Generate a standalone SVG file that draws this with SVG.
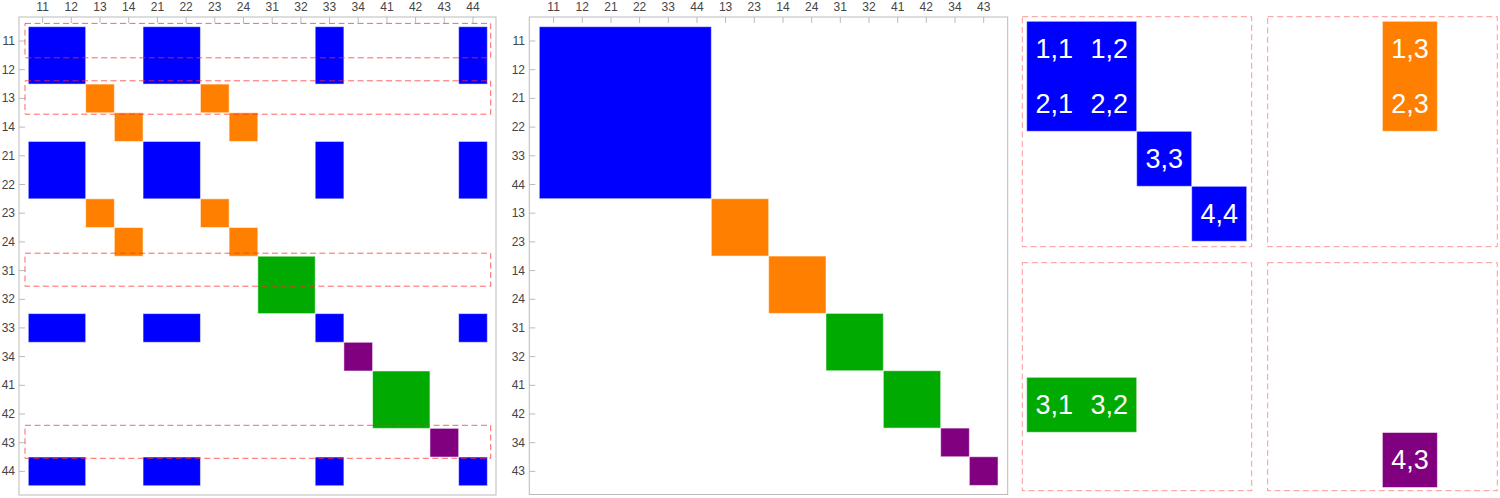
<svg xmlns="http://www.w3.org/2000/svg" width="1500" height="498" viewBox="0 0 1500 498">
<style>
.lbl{font-family:"Liberation Sans",Arial,sans-serif;font-size:12px;fill:#444}
.top{text-anchor:middle}
.side{text-anchor:end;dominant-baseline:central}
.frame{fill:none;stroke:#bbb;stroke-width:1}
.tick{stroke:#bbb;stroke-width:1;fill:none}
.b{fill:#0000ff}.o{fill:#ff8000}.g{fill:#00aa00}.p{fill:#800080}
.cell rect{stroke:#fff;stroke-opacity:0.5;stroke-width:1;vector-effect:non-scaling-stroke}
.dash{fill:none;stroke:#ff3030;stroke-opacity:0.75;stroke-width:1;stroke-dasharray:6 3.5}
.dash2{fill:none;stroke:#ff3030;stroke-opacity:0.5;stroke-width:1;stroke-dasharray:6 3.5}
.cl{font-family:"Liberation Sans",Arial,sans-serif;font-size:27px;fill:#fff;text-anchor:middle;dominant-baseline:central}
.blk{stroke:#fff;stroke-opacity:0.5;stroke-width:1}
</style>
<rect width="1500" height="498" fill="#fff"/>

<!-- LEFT PANEL -->
<g id="left-panel">
<rect class="frame" x="19" y="17" width="477" height="478"/>
<path class="tick" d="M42.6 17v6M71.3 17v6M100 17v6M128.7 17v6M157.4 17v6M186.1 17v6M214.8 17v6M243.5 17v6M272.2 17v6M300.9 17v6M329.5 17v6M358.2 17v6M386.9 17v6M415.6 17v6M444.3 17v6M473 17v6M19 41h6M19 69.7h6M19 98.4h6M19 127.1h6M19 155.8h6M19 184.5h6M19 213.2h6M19 241.9h6M19 270.6h6M19 299.3h6M19 327.9h6M19 356.6h6M19 385.3h6M19 414h6M19 442.7h6M19 471.4h6"/>
<g class="lbl top">
<text x="42.6" y="11">11</text><text x="71.3" y="11">12</text><text x="100" y="11">13</text><text x="128.7" y="11">14</text>
<text x="157.4" y="11">21</text><text x="186.1" y="11">22</text><text x="214.8" y="11">23</text><text x="243.5" y="11">24</text>
<text x="272.2" y="11">31</text><text x="300.9" y="11">32</text><text x="329.5" y="11">33</text><text x="358.2" y="11">34</text>
<text x="386.9" y="11">41</text><text x="415.6" y="11">42</text><text x="444.3" y="11">43</text><text x="473" y="11">44</text>
</g>
<g class="lbl side">
<text x="15" y="41">11</text><text x="15" y="69.7">12</text><text x="15" y="98.4">13</text><text x="15" y="127.1">14</text>
<text x="15" y="155.8">21</text><text x="15" y="184.5">22</text><text x="15" y="213.2">23</text><text x="15" y="241.9">24</text>
<text x="15" y="270.6">31</text><text x="15" y="299.3">32</text><text x="15" y="327.9">33</text><text x="15" y="356.6">34</text>
<text x="15" y="385.3">41</text><text x="15" y="414">42</text><text x="15" y="442.7">43</text><text x="15" y="471.4">44</text>
</g>
<g class="cell" transform="translate(28.3 26.7) scale(28.69)">
<rect class="b" x="0" y="0" width="2" height="2"/><rect class="b" x="4" y="0" width="2" height="2"/><rect class="b" x="10" y="0" width="1" height="2"/><rect class="b" x="15" y="0" width="1" height="2"/>
<rect class="b" x="0" y="4" width="2" height="2"/><rect class="b" x="4" y="4" width="2" height="2"/><rect class="b" x="10" y="4" width="1" height="2"/><rect class="b" x="15" y="4" width="1" height="2"/>
<rect class="b" x="0" y="10" width="2" height="1"/><rect class="b" x="4" y="10" width="2" height="1"/><rect class="b" x="10" y="10" width="1" height="1"/><rect class="b" x="15" y="10" width="1" height="1"/>
<rect class="b" x="0" y="15" width="2" height="1"/><rect class="b" x="4" y="15" width="2" height="1"/><rect class="b" x="10" y="15" width="1" height="1"/><rect class="b" x="15" y="15" width="1" height="1"/>
<rect class="o" x="2" y="2" width="1" height="1"/><rect class="o" x="6" y="2" width="1" height="1"/><rect class="o" x="2" y="6" width="1" height="1"/><rect class="o" x="6" y="6" width="1" height="1"/>
<rect class="o" x="3" y="3" width="1" height="1"/><rect class="o" x="7" y="3" width="1" height="1"/><rect class="o" x="3" y="7" width="1" height="1"/><rect class="o" x="7" y="7" width="1" height="1"/>
<rect class="g" x="8" y="8" width="2" height="2"/><rect class="g" x="12" y="12" width="2" height="2"/>
<rect class="p" x="11" y="11" width="1" height="1"/><rect class="p" x="14" y="14" width="1" height="1"/>
</g>
<rect class="dash" x="25" y="23.4" width="465.7" height="34.4"/>
<rect class="dash" x="25" y="80.8" width="465.7" height="33.4"/>
<rect class="dash" x="25" y="253.2" width="465.7" height="33"/>
<rect class="dash" x="25" y="425.3" width="465.7" height="33"/>
</g>

<!-- MIDDLE PANEL -->
<g id="middle-panel">
<rect class="frame" x="529.3" y="17" width="478.4" height="477.5"/>
<path class="tick" d="M553.6 17v6M582.3 17v6M611 17v6M639.6 17v6M668.3 17v6M697 17v6M725.6 17v6M754.3 17v6M783 17v6M811.7 17v6M840.3 17v6M869 17v6M897.7 17v6M926.3 17v6M955 17v6M983.7 17v6M529.3 41h6M529.3 69.7h6M529.3 98.4h6M529.3 127.1h6M529.3 155.8h6M529.3 184.5h6M529.3 213.2h6M529.3 241.9h6M529.3 270.6h6M529.3 299.3h6M529.3 327.9h6M529.3 356.6h6M529.3 385.3h6M529.3 414h6M529.3 442.7h6M529.3 471.4h6"/>
<g class="lbl top">
<text x="553.6" y="11">11</text><text x="582.3" y="11">12</text><text x="611" y="11">21</text><text x="639.6" y="11">22</text>
<text x="668.3" y="11">33</text><text x="697" y="11">44</text><text x="725.6" y="11">13</text><text x="754.3" y="11">23</text>
<text x="783" y="11">14</text><text x="811.7" y="11">24</text><text x="840.3" y="11">31</text><text x="869" y="11">32</text>
<text x="897.7" y="11">41</text><text x="926.3" y="11">42</text><text x="955" y="11">34</text><text x="983.7" y="11">43</text>
</g>
<g class="lbl side">
<text x="525" y="41">11</text><text x="525" y="69.7">12</text><text x="525" y="98.4">21</text><text x="525" y="127.1">22</text>
<text x="525" y="155.8">33</text><text x="525" y="184.5">44</text><text x="525" y="213.2">13</text><text x="525" y="241.9">23</text>
<text x="525" y="270.6">14</text><text x="525" y="299.3">24</text><text x="525" y="327.9">31</text><text x="525" y="356.6">32</text>
<text x="525" y="385.3">41</text><text x="525" y="414">42</text><text x="525" y="442.7">34</text><text x="525" y="471.4">43</text>
</g>
<g class="cell" transform="translate(539.3 26.7) scale(28.67)">
<rect class="b" x="0" y="0" width="6" height="6"/>
<rect class="o" x="6" y="6" width="2" height="2"/>
<rect class="o" x="8" y="8" width="2" height="2"/>
<rect class="g" x="10" y="10" width="2" height="2"/>
<rect class="g" x="12" y="12" width="2" height="2"/>
<rect class="p" x="14" y="14" width="1" height="1"/>
<rect class="p" x="15" y="15" width="1" height="1"/>
</g>
</g>

<!-- RIGHT PANELS -->
<g id="block-top-left">
<rect class="dash2" x="1022.3" y="16.7" width="229.4" height="230"/>
<rect class="b blk" x="1026.7" y="21.3" width="110" height="110"/>
<rect class="b blk" x="1136.7" y="131.3" width="55" height="55"/>
<rect class="b blk" x="1191.7" y="186.3" width="55" height="55"/>
<text class="cl" x="1054.2" y="48.8">1,1</text>
<text class="cl" x="1109.2" y="48.8">1,2</text>
<text class="cl" x="1054.2" y="103.8">2,1</text>
<text class="cl" x="1109.2" y="103.8">2,2</text>
<text class="cl" x="1164.2" y="158.8">3,3</text>
<text class="cl" x="1219.2" y="213.8">4,4</text>
</g>
<g id="block-top-right">
<rect class="dash2" x="1267.7" y="16.7" width="229.6" height="230"/>
<rect class="o blk" x="1382.4" y="21.3" width="55" height="110"/>
<text class="cl" x="1409.9" y="48.8">1,3</text>
<text class="cl" x="1409.9" y="103.8">2,3</text>
</g>
<g id="block-bottom-left">
<rect class="dash2" x="1022.3" y="262.7" width="229.4" height="228"/>
<rect class="g blk" x="1026.7" y="377.3" width="110" height="55"/>
<text class="cl" x="1054.2" y="404.8">3,1</text>
<text class="cl" x="1109.2" y="404.8">3,2</text>
</g>
<g id="block-bottom-right">
<rect class="dash2" x="1267.7" y="262.7" width="229.6" height="228"/>
<rect class="p blk" x="1382.4" y="432.5" width="55" height="55"/>
<text class="cl" x="1409.9" y="460">4,3</text>
</g>
<g id="connectors"/>
</svg>
